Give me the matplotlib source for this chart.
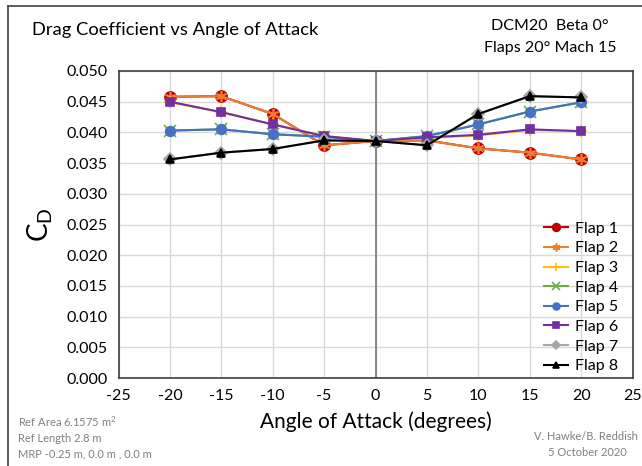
import numpy as np
import matplotlib.pyplot as plt
from matplotlib.lines import Line2D

plt.rcParams['font.family'] = ['Lato', 'DejaVu Sans']
plt.rcParams['axes.unicode_minus'] = False

alpha = [-20, -15, -10, -5, 0, 5, 10, 15, 20]

flap1 = [0.0458, 0.0459, 0.0430, 0.0379, 0.0386, 0.0387, 0.0374, 0.0367, 0.0356]
flap2 = [0.0458, 0.0459, 0.0430, 0.0379, 0.0386, 0.0387, 0.0374, 0.0367, 0.0356]
flap3 = [0.0449, 0.0433, 0.0413, 0.0394, 0.0386, 0.0391, 0.0395, 0.0404, 0.0402]
flap4 = [0.0403, 0.0405, 0.0397, 0.0393, 0.0386, 0.0394, 0.0413, 0.0434, 0.0449]
flap5 = [0.0403, 0.0405, 0.0397, 0.0393, 0.0386, 0.0394, 0.0413, 0.0434, 0.0449]
flap6 = [0.0450, 0.0433, 0.0413, 0.0394, 0.0386, 0.0392, 0.0396, 0.0405, 0.0402]
flap7 = [0.0356, 0.0367, 0.0373, 0.0387, 0.0386, 0.0379, 0.0430, 0.0459, 0.0457]
flap8 = [0.0356, 0.0367, 0.0373, 0.0387, 0.0386, 0.0379, 0.0430, 0.0459, 0.0457]

labels = ['Flap 1', 'Flap 2', 'Flap 3', 'Flap 4', 'Flap 5', 'Flap 6', 'Flap 7', 'Flap 8']
series = [flap1, flap2, flap3, flap4, flap5, flap6, flap7, flap8]
colors = ['#C00000', '#ED7D31', '#FFC000', '#70AD47', '#4472C4', '#7030A0', '#A5A5A5', '#000000']
markers = ['o', (6, 2, 0), '+', 'x', 'o', 's', 'D', '^']
msizes = [8, 8, 9, 8, 7, 6, 6, 6]

fig = plt.figure(figsize=(6.42, 4.66), dpi=100)
ax = fig.add_axes([118.5 / 642, 88 / 466, 514 / 642, 307 / 466])

for y, lab, c, m, ms in zip(series, labels, colors, markers, msizes):
    ax.plot(alpha, y, color=c, marker=m, markersize=ms, linewidth=1.5,
            markeredgewidth=1.2, label=lab)

ax.set_xlim(-25, 25)
ax.set_ylim(0, 0.05)
ax.set_xticks(np.arange(-25, 26, 5))
ax.set_yticks(np.arange(0, 0.0501, 0.005))
ax.set_yticklabels(['%.3f' % v for v in np.arange(0, 0.0501, 0.005)])
ax.grid(color='#D9D9D9', linewidth=1)
ax.set_axisbelow(True)
ax.axvline(0, color='#808080', linewidth=1.3, zorder=1)
ax.tick_params(length=0, labelsize=11.5, pad=8)
for s in ax.spines.values():
    s.set_color('#404040')
    s.set_linewidth(1.2)

ax.set_xlabel('Angle of Attack (degrees)', fontsize=15, labelpad=6)
ax.set_ylabel('C$_\\mathregular{D}$', fontsize=20, labelpad=8)

leg = ax.legend(loc='lower right', frameon=False, fontsize=11.5,
                handlelength=1.5, handletextpad=0.45, markerscale=0.7,
                labelspacing=0.34, borderaxespad=0.0,
                bbox_to_anchor=(0.985, -0.005))

# figure border (left and top edges)
fig.add_artist(Line2D([8 / 642, 8 / 642], [0, 1 - 6 / 466], color='#404040',
                      linewidth=1.2, transform=fig.transFigure))
fig.add_artist(Line2D([8 / 642, 1], [1 - 6 / 466, 1 - 6 / 466], color='#404040',
                      linewidth=1.2, transform=fig.transFigure))

fig.text(32 / 642, 1 - 30 / 466, 'Drag Coefficient vs Angle of Attack',
         fontsize=13.2, va='center', ha='left')
fig.text(550 / 642, 1 - 26 / 466, 'DCM20  Beta 0°', fontsize=11.5,
         va='center', ha='center')
fig.text(550 / 642, 1 - 48 / 466, 'Flaps 20° Mach 15', fontsize=11.5,
         va='center', ha='center')

note = '#808080'
fig.text(18 / 642, 1 - 422 / 466, 'Ref Area 6.1575 m$^\\mathregular{2}$',
         fontsize=8, color=note, va='center')
fig.text(18 / 642, 1 - 438 / 466, 'Ref Length 2.8 m', fontsize=8,
         color=note, va='center')
fig.text(18 / 642, 1 - 454 / 466, 'MRP -0.25 m, 0.0 m , 0.0 m', fontsize=8,
         color=note, va='center')
fig.text(638 / 642, 1 - 437 / 466, 'V. Hawke/B. Reddish', fontsize=8,
         color=note, va='center', ha='right')
fig.text(627 / 642, 1 - 453 / 466, '5 October 2020', fontsize=8,
         color=note, va='center', ha='right')

fig.savefig('out.png', dpi=100)
